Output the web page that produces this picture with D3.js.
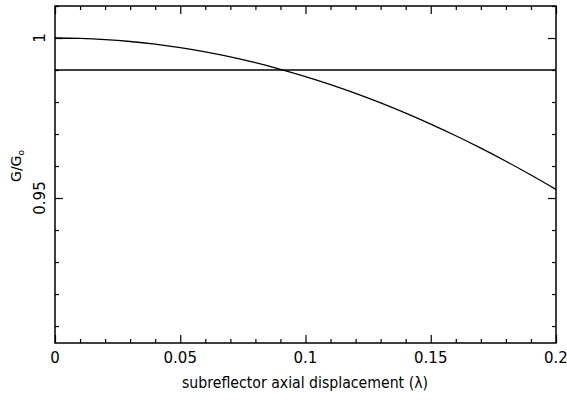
<!DOCTYPE html>
<html>
<head>
<meta charset="utf-8">
<script src="https://cdn.jsdelivr.net/npm/d3@7"></script>
<style>
  body { margin: 0; background: #fff; }
  svg text { font-family: "DejaVu Sans", sans-serif; fill: #000; }
</style>
</head>
<body>
<svg width="567" height="404"></svg>
<script>
// displacement (wavelengths) and relative gain
const displacement = [0, 0.01, 0.02, 0.03, 0.04, 0.05, 0.06, 0.07, 0.08, 0.09, 0.10,
    0.11, 0.12, 0.13, 0.14, 0.15, 0.16, 0.17, 0.18, 0.19, 0.20]
const gain = [1, 0.99988, 0.99952, 0.99891, 0.99806, 0.99697, 0.99565, 0.99408, 0.99227, 0.99023, 0.98796,
    0.98544, 0.98270, 0.97972, 0.97653, 0.97310, 0.96945, 0.96557, 0.96149, 0.95719, 0.95268]
const threshold = 0.99
const xMajor = [0, 0.05, 0.1, 0.15, 0.2]
const xLabels = ['0', '0.05', '0.1', '0.15', '0.2']
const yMajor = [1, 0.95]
const yLabels = ['1', '0.95']

const svg = d3.select('svg')
const mLeft = 55, mRight = 556, mTop = 6, mBottom = 343

const xScale = d3.scaleLinear()
    .domain([0, 0.2])
    .range([mLeft, mRight])
const yScale = d3.scaleLinear()
    .domain([0.9047, 1.01])
    .range([mBottom, mTop])

// frame
svg.append('rect')
    .attr('x', mLeft)
    .attr('y', mTop)
    .attr('width', mRight - mLeft)
    .attr('height', mBottom - mTop)
    .attr('fill', 'none')
    .attr('stroke', '#000')
    .attr('stroke-width', 1.5)

// axes with major + minor ticks on all four sides
const xMinor = d3.range(0, 0.2001, 0.01).filter(v => !xMajor.some(m => Math.abs(m - v) < 1e-6))
const yMinor = d3.range(0.91, 1.0101, 0.01).filter(v => !yMajor.some(m => Math.abs(m - v) < 1e-6))

function drawAxis(axis, translate) {
    const g = svg.append('g').attr('transform', translate).call(axis)
    g.select('.domain').remove()
    g.selectAll('line').attr('stroke', '#000').attr('stroke-width', 1.2)
    return g
}

drawAxis(d3.axisTop(xScale).tickValues(xMajor).tickSize(8).tickFormat(''), `translate(0,${mBottom})`)
drawAxis(d3.axisTop(xScale).tickValues(xMinor).tickSize(4).tickFormat(''), `translate(0,${mBottom})`)
drawAxis(d3.axisBottom(xScale).tickValues(xMajor).tickSize(8).tickFormat(''), `translate(0,${mTop})`)
drawAxis(d3.axisBottom(xScale).tickValues(xMinor).tickSize(4).tickFormat(''), `translate(0,${mTop})`)
drawAxis(d3.axisRight(yScale).tickValues(yMajor).tickSize(8).tickFormat(''), `translate(${mLeft},0)`)
drawAxis(d3.axisRight(yScale).tickValues(yMinor).tickSize(4).tickFormat(''), `translate(${mLeft},0)`)
drawAxis(d3.axisLeft(yScale).tickValues(yMajor).tickSize(8).tickFormat(''), `translate(${mRight},0)`)
drawAxis(d3.axisLeft(yScale).tickValues(yMinor).tickSize(4).tickFormat(''), `translate(${mRight},0)`)

// tick labels
svg.selectAll('.xlab')
    .data(xMajor)
    .join('text')
    .attr('class', 'xlab')
    .attr('x', d => xScale(d))
    .attr('y', 363)
    .attr('text-anchor', 'middle')
    .attr('font-size', 15)
    .text((d, i) => xLabels[i])

svg.selectAll('.ylab')
    .data(yMajor)
    .join('text')
    .attr('class', 'ylab')
    .attr('transform', d => `translate(45,${yScale(d)}) rotate(-90)`)
    .attr('text-anchor', 'middle')
    .attr('font-size', 15)
    .text((d, i) => yLabels[i])

// axis titles
svg.append('text')
    .attr('x', 182)
    .attr('y', 388)
    .attr('font-size', 15)
    .attr('textLength', 246)
    .attr('lengthAdjust', 'spacingAndGlyphs')
    .text('subreflector axial displacement (λ)')

const yt = svg.append('text')
    .attr('transform', 'translate(21,166) rotate(-90)')
    .attr('text-anchor', 'middle')
    .attr('font-size', 14)
yt.append('tspan').text('G/G')
yt.append('tspan').attr('font-size', 9).attr('dy', 3).text('o')

// threshold line
svg.append('line')
    .attr('x1', xScale(0))
    .attr('x2', xScale(0.2))
    .attr('y1', yScale(threshold))
    .attr('y2', yScale(threshold))
    .attr('stroke', '#000')
    .attr('stroke-width', 1.3)

// gain curve
const line = d3.line()
    .x((d, i) => xScale(displacement[i]))
    .y(d => yScale(d))
    .curve(d3.curveMonotoneX)

svg.append('path')
    .datum(gain)
    .attr('d', line)
    .attr('fill', 'none')
    .attr('stroke', '#000')
    .attr('stroke-width', 1.3)
</script>
</body>
</html>
